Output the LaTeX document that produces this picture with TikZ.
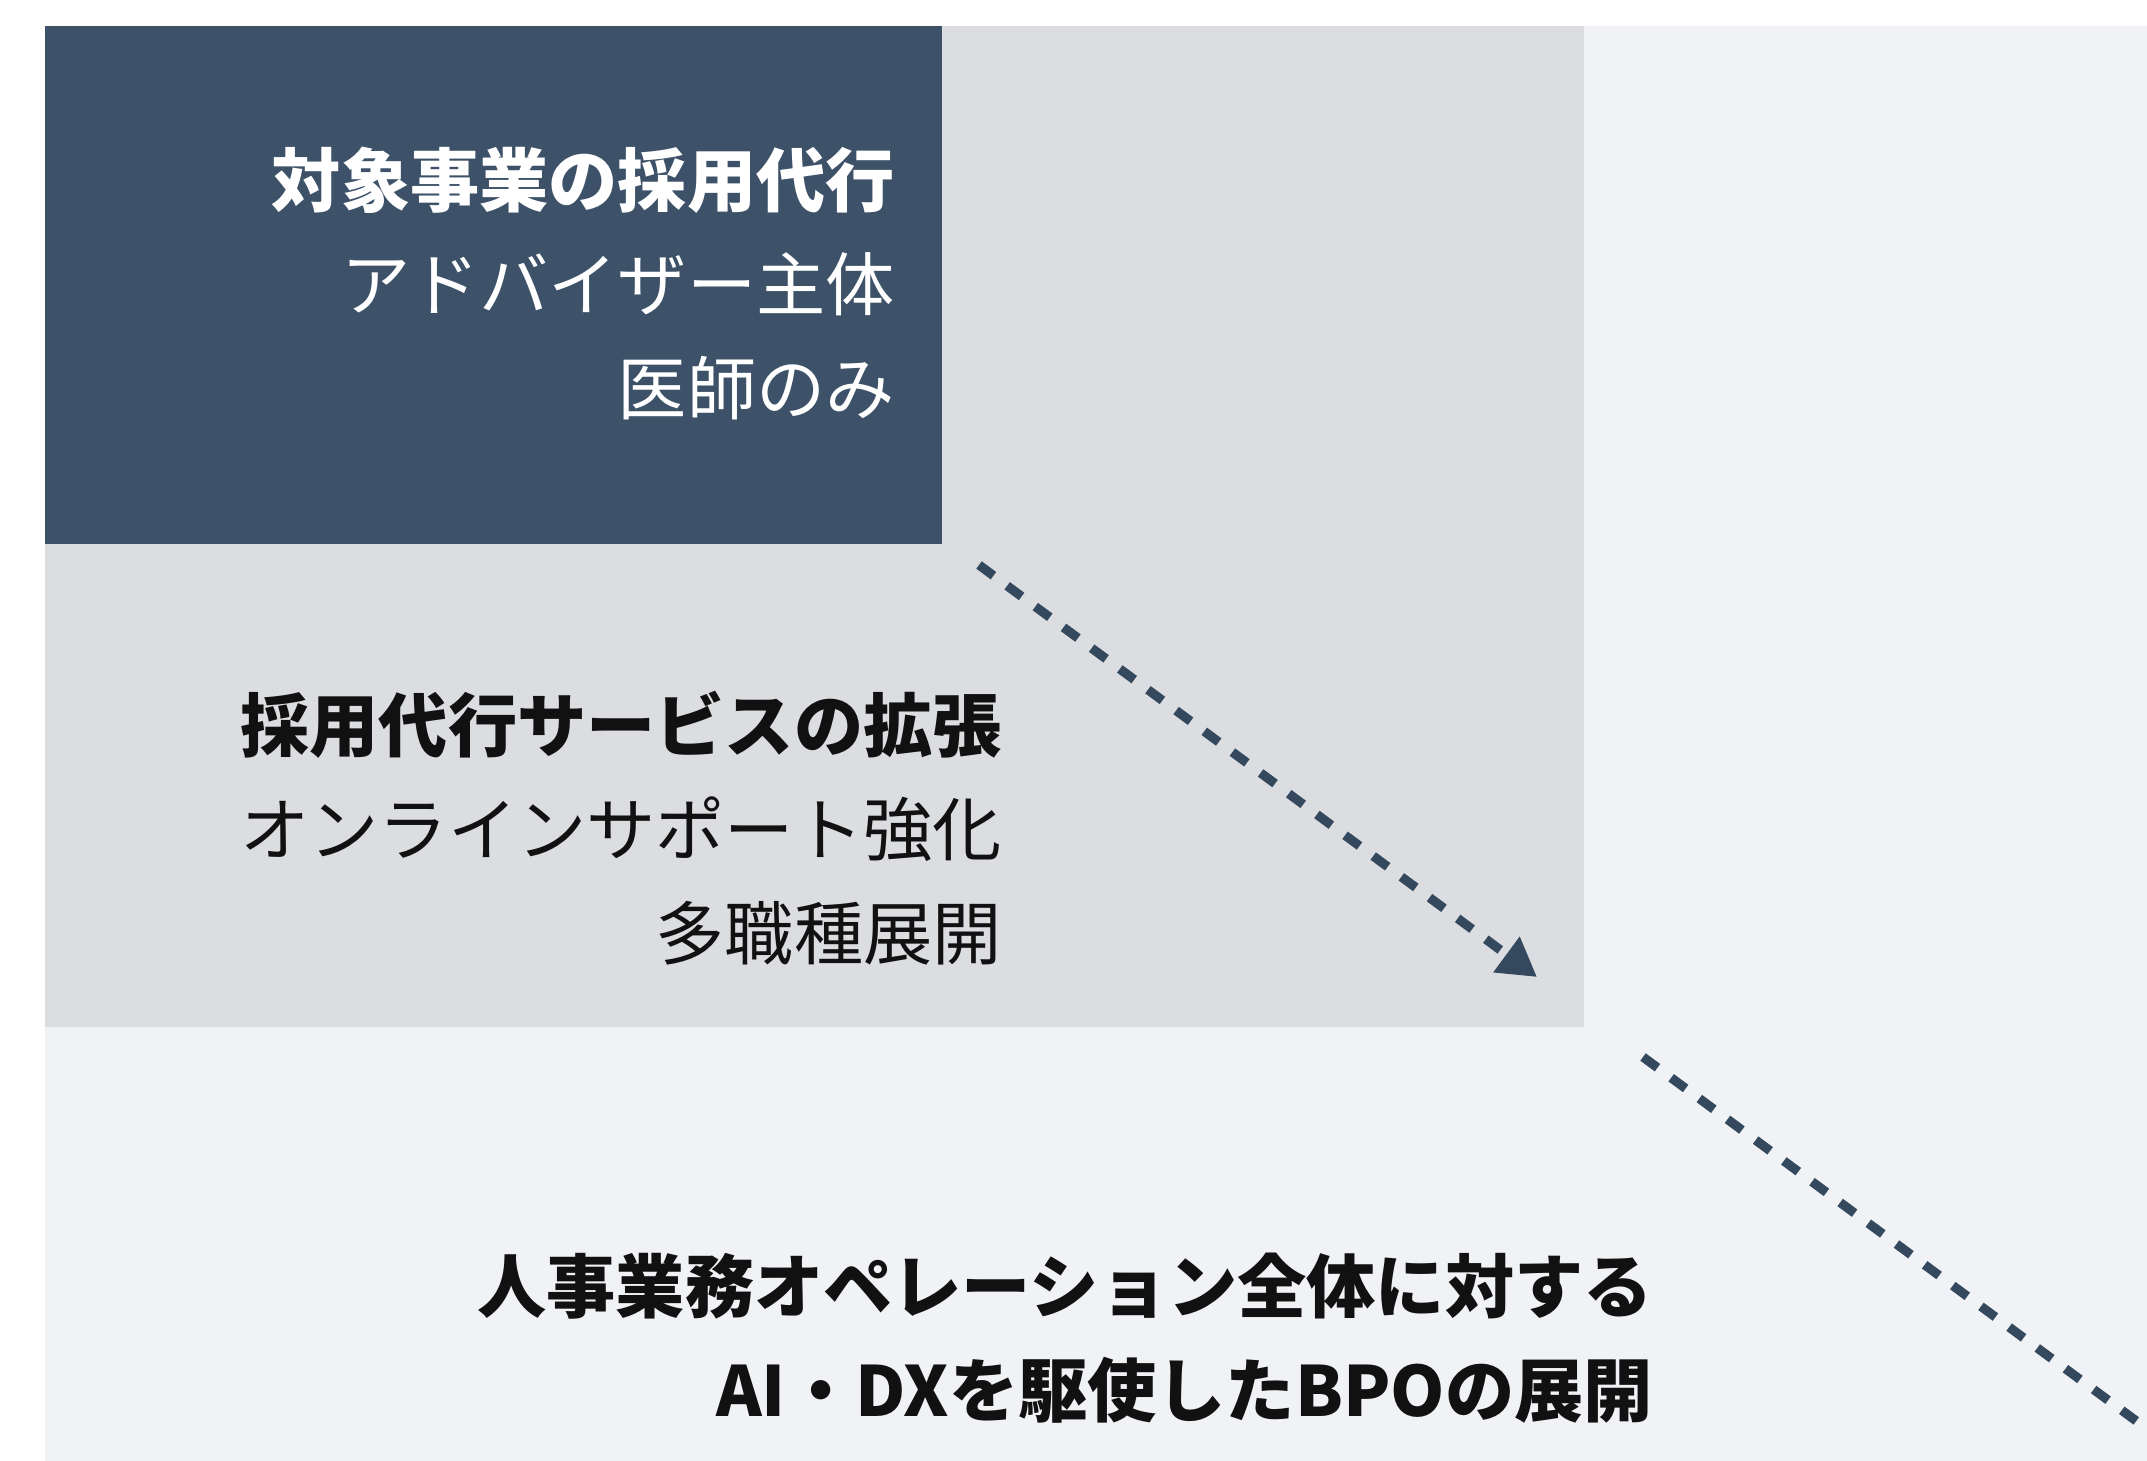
\documentclass[tikz,border=0pt]{standalone}
\usepackage{fontspec}
\setmainfont{Noto Sans CJK JP}
\usetikzlibrary{arrows.meta}
\definecolor{darkbox}{HTML}{3D5269}
\definecolor{graybox}{HTML}{DCDDE0}
\definecolor{lightbox}{HTML}{F1F2F6}
\definecolor{arrowc}{HTML}{34495E}
\definecolor{inkc}{HTML}{111111}
\tikzset{
  txt/.style={anchor=east, align=right, inner sep=0pt, font=\fontsize{34.6}{52}\selectfont},
  flow/.style={draw=arrowc, line width=4.6pt, dash pattern=on 9pt off 8.5pt,
    -{Triangle[length=19pt,width=21pt]}},
}
\begin{document}
\begin{tikzpicture}[x=0.5pt,y=-0.5pt]
\useasboundingbox (0,0) rectangle (2147,1461);
\fill[white] (0,0) rectangle (2147,1461);
\fill[lightbox] (45,26) rectangle (2147,1461);
\fill[graybox] (45,26) rectangle (1584,1027);
\fill[darkbox] (45,26) rectangle (942,544);

\node[txt, text=white] (t1) at (895,283)
  {\textbf{対象事業の採用代行}\\アドバイザー主体\\医師のみ};
\node[txt, text=inkc] (t2) at (1002,828)
  {\textbf{採用代行サービスの拡張}\\オンラインサポート強化\\多職種展開};
\node[txt, text=inkc, font=\fontsize{34.6}{52}\selectfont\bfseries] (t3) at (1653,1338)
  {人事業務オペレーション全体に対する\\AI・DXを駆使したBPOの展開};

\coordinate (a1s) at (979,565);
\coordinate (a1e) at (1537,977);
\draw[flow] (a1s) -- (a1e);

\begin{scope}
\clip (0,0) rectangle (2147,1461);
\coordinate (a2s) at (1643,1057);
\coordinate (a2e) at (2200,1468);
\draw[flow] (a2s) -- (a2e);
\end{scope}
\end{tikzpicture}
\end{document}
